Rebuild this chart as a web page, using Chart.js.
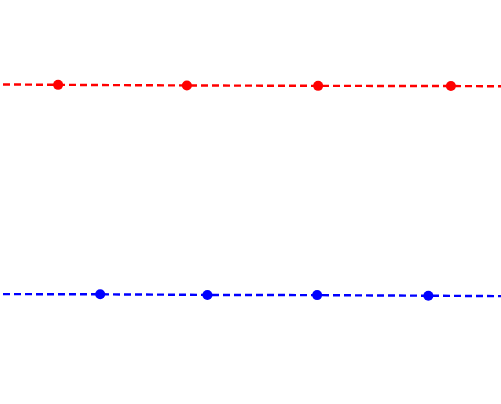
<!DOCTYPE html>
<html>
<head>
<meta charset="utf-8">
<script src="https://cdn.jsdelivr.net/npm/chart.js@4/dist/chart.umd.min.js"></script>
<style>
html,body{margin:0;padding:0;background:#fff;}
#wrap{width:501px;height:404px;position:relative;}
</style>
</head>
<body>
<div id="wrap"><canvas id="c"></canvas></div>
<script>
// Series values (x, y); first/last entries are line ends without markers
const redX = [0.06, 1.16, 3.73, 6.35, 9.00, 10.0];
const redY = [7.91, 7.90, 7.885, 7.875, 7.87, 7.865];
const blueX = [0.06, 2.00, 4.14, 6.33, 8.55, 10.0];
const blueY = [2.72, 2.715, 2.70, 2.695, 2.68, 2.67];

const toPts = (xs, ys) => xs.map((x, i) => ({x: x, y: ys[i]}));
const radii = (n) => Array.from({length: n}, (_, i) => (i === 0 || i === n - 1) ? 0 : 5);

new Chart(document.getElementById('c'), {
  type: 'scatter',
  data: {
    datasets: [
      {
        label: 'red',
        data: toPts(redX, redY),
        showLine: true,
        borderColor: '#ff0000',
        backgroundColor: '#ff0000',
        borderWidth: 2.4,
        borderDash: [7, 4],
        pointRadius: radii(redX.length),
        pointBorderWidth: 0
      },
      {
        label: 'blue',
        data: toPts(blueX, blueY),
        showLine: true,
        borderColor: '#0000ff',
        backgroundColor: '#0000ff',
        borderWidth: 2.4,
        borderDash: [7, 4],
        pointRadius: radii(blueX.length),
        pointBorderWidth: 0
      }
    ]
  },
  options: {
    responsive: true,
    maintainAspectRatio: false,
    animation: false,
    layout: {padding: 0},
    plugins: {legend: {display: false}, tooltip: {enabled: false}},
    scales: {
      x: {type: 'linear', min: 0, max: 10, display: false},
      y: {type: 'linear', min: 0, max: 10, display: false}
    }
  }
});
</script>
</body>
</html>
